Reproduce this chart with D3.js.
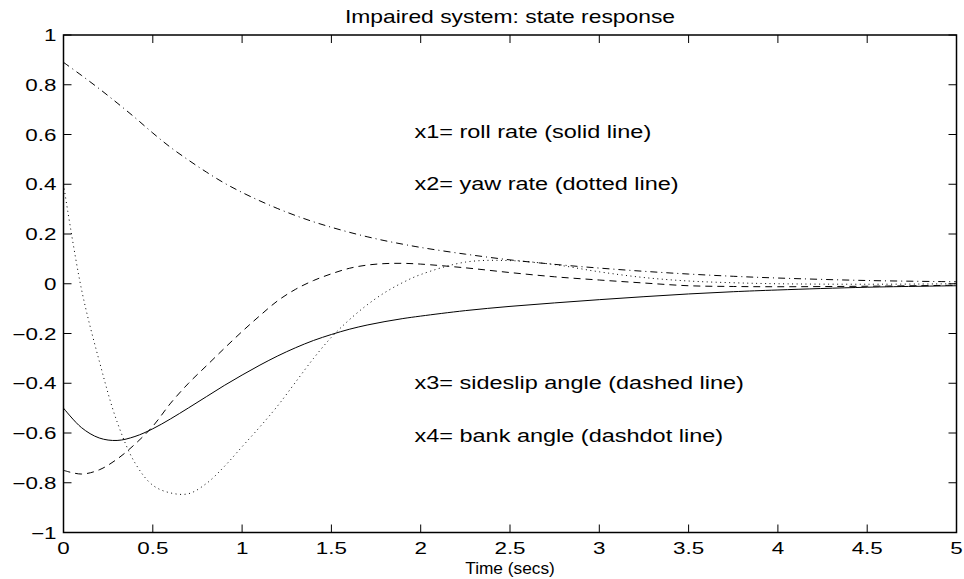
<!DOCTYPE html>
<html>
<head>
<meta charset="utf-8">
<script src="https://cdn.jsdelivr.net/npm/d3@7"></script>
<style>
  body { margin: 0; background: #fff; }
  text { font-family: "Liberation Sans", Arial, sans-serif; fill: #000; }
</style>
</head>
<body>
<div id="chart"></div>
<script>
// time samples (secs)
var tVals = [0, 0.1, 0.2, 0.3, 0.4, 0.5, 0.6, 0.7, 0.8, 0.9, 1.0, 1.1, 1.2, 1.3, 1.4, 1.5, 1.6, 1.7, 1.8, 1.9, 2.0, 2.25, 2.5, 2.75, 3.0, 3.25, 3.5, 3.75, 4.0, 4.5, 5.0];
// x1 roll rate (solid)
var x1 = [-0.50, -0.578, -0.620, -0.630, -0.614, -0.583, -0.543, -0.499, -0.454, -0.409, -0.367, -0.327, -0.290, -0.257, -0.228, -0.204, -0.183, -0.166, -0.152, -0.140, -0.130, -0.108, -0.091, -0.077, -0.064, -0.052, -0.041, -0.032, -0.025, -0.014, -0.008];
// x2 yaw rate (dotted)
var x2 = [0.40, -0.02, -0.31, -0.555, -0.72, -0.81, -0.841, -0.844, -0.803, -0.735, -0.655, -0.575, -0.49, -0.395, -0.30, -0.215, -0.145, -0.085, -0.035, 0.005, 0.037, 0.087, 0.093, 0.077, 0.048, 0.025, 0.011, 0.004, 0.0, -0.002, 0.0];
// x3 sideslip angle (dashed)
var x3 = [-0.75, -0.765, -0.748, -0.705, -0.645, -0.573, -0.48, -0.40, -0.33, -0.26, -0.192, -0.128, -0.068, -0.022, 0.013, 0.04, 0.062, 0.075, 0.081, 0.082, 0.079, 0.064, 0.045, 0.028, 0.015, 0.003, -0.008, -0.011, -0.012, -0.010, -0.006];
// x4 bank angle (dashdot)
var x4 = [0.89, 0.838, 0.784, 0.727, 0.668, 0.606, 0.548, 0.497, 0.449, 0.405, 0.367, 0.333, 0.302, 0.274, 0.249, 0.227, 0.207, 0.189, 0.173, 0.159, 0.146, 0.119, 0.096, 0.078, 0.063, 0.05, 0.039, 0.03, 0.023, 0.013, 0.008];

var xTicks = [0, 0.5, 1, 1.5, 2, 2.5, 3, 3.5, 4, 4.5, 5];
var yTicks = [-1, -0.8, -0.6, -0.4, -0.2, 0, 0.2, 0.4, 0.6, 0.8, 1];

var notes = [
  {t: "x1= roll rate (solid line)", x: 1.965, y: 0.585},
  {t: "x2= yaw rate (dotted line)", x: 1.965, y: 0.375},
  {t: "x3= sideslip angle (dashed line)", x: 1.965, y: -0.425},
  {t: "x4= bank angle (dashdot line)", x: 1.965, y: -0.635}
];

var W = 964, H = 579;
var L = 63.5, R = 956.5, T = 35, B = 532.5;

var svg = d3.select("#chart").append("svg")
  .attr("width", W)
  .attr("height", H);

var x = d3.scaleLinear().domain([0, 5]).range([L, R]);
var y = d3.scaleLinear().domain([-1, 1]).range([B, T]);

var fmt = d3.format("~g");

// stretched text helper (the original type is wide)
function label(g, str, px, py, size, sx, anchor) {
  return g.append("text")
    .attr("transform", "translate(" + px + "," + py + ") scale(" + sx + ",1)")
    .attr("font-size", size)
    .attr("text-anchor", anchor)
    .text(str);
}

// ticks, inward on all four sides
var tk = 8;
var axes = svg.append("g").attr("stroke", "#000").attr("stroke-width", 1);
xTicks.forEach(function(d){
  axes.append("line").attr("x1", x(d)).attr("x2", x(d)).attr("y1", B).attr("y2", B - tk);
  axes.append("line").attr("x1", x(d)).attr("x2", x(d)).attr("y1", T).attr("y2", T + tk);
});
yTicks.forEach(function(d){
  axes.append("line").attr("y1", y(d)).attr("y2", y(d)).attr("x1", L).attr("x2", L + tk);
  axes.append("line").attr("y1", y(d)).attr("y2", y(d)).attr("x1", R).attr("x2", R - tk);
});

var lab = svg.append("g");
xTicks.forEach(function(d){
  label(lab, fmt(d), x(d), B + 21, 16, 1.4, "middle");
});
yTicks.forEach(function(d){
  label(lab, fmt(d), L - 7, y(d) + 6, 16, 1.4, "end");
});

// curves
var series = [
  {v: x1, dash: null},
  {v: x2, dash: "1,3.5"},
  {v: x3, dash: "7,5"},
  {v: x4, dash: "7,4,1,4"}
];

var line = d3.line()
  .x(function(d){ return x(d[0]); })
  .y(function(d){ return y(d[1]); })
  .curve(d3.curveCatmullRom.alpha(0.5));

svg.append("g").selectAll("path").data(series).enter().append("path")
  .attr("d", function(s){ return line(d3.zip(tVals, s.v)); })
  .attr("fill", "none")
  .attr("stroke", "#000")
  .attr("stroke-width", 1)
  .attr("stroke-dasharray", function(s){ return s.dash; });

// frame
svg.append("rect")
  .attr("x", L).attr("y", T)
  .attr("width", R - L).attr("height", B - T)
  .attr("fill", "none")
  .attr("stroke", "#000")
  .attr("stroke-width", 1.5);

// notes
notes.forEach(function(n){
  label(svg, n.t, x(n.x), y(n.y), 18.5, 1.27, "start");
});

// title and axis label
label(svg, "Impaired system: state response", (L + R) / 2, 23, 18, 1.27, "middle");
label(svg, "Time (secs)", (L + R) / 2, 574, 16, 1.08, "middle");
</script>
</body>
</html>
